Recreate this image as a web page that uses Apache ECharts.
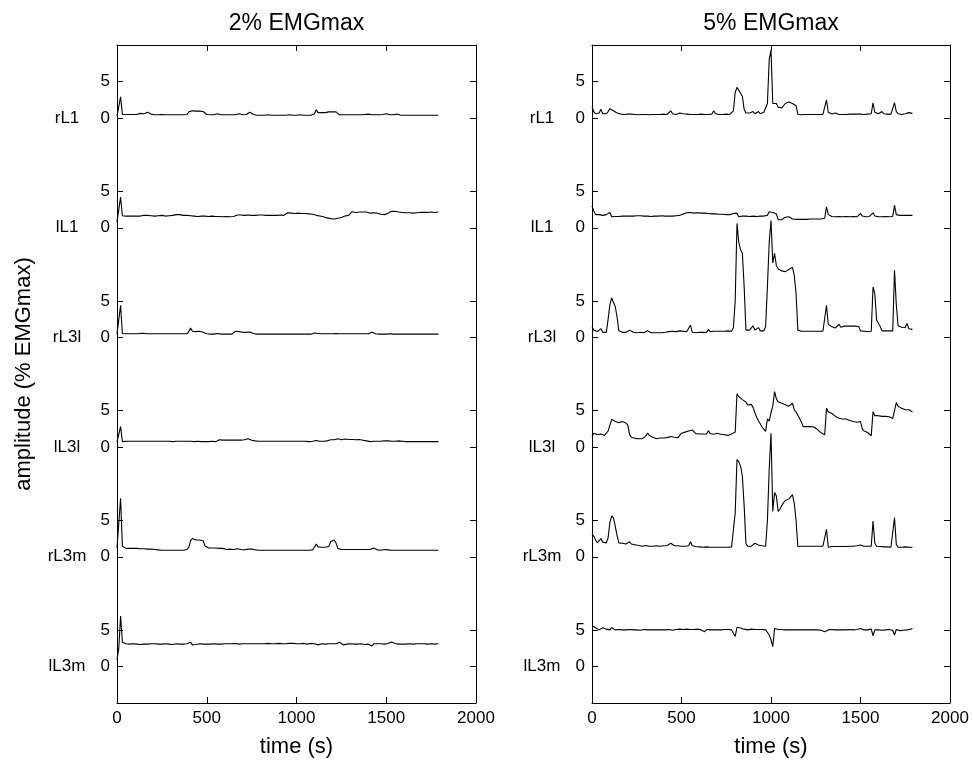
<!DOCTYPE html>
<html>
<head>
<meta charset="utf-8">
<script src="https://cdn.jsdelivr.net/npm/echarts@6/dist/echarts.min.js"></script>
<style>
  html, body { margin: 0; padding: 0; background: #ffffff; }
  #chart { width: 973px; height: 764px; }
</style>
</head>
<body>
<div id="chart"></div>
<script>
// Channels, drawn top to bottom, and the vertical offset (in % EMGmax) of each trace
const channels = ['rL1', 'lL1', 'rL3l', 'lL3l', 'rL3m', 'lL3m'];
const channelOffset = [75, 60, 45, 30, 15, 0];
const panelTitles = ['2% EMGmax', '5% EMGmax'];
const xTicks = [0, 500, 1000, 1500, 2000];
const yTickValues = [0, 5, 15, 20, 30, 35, 45, 50, 60, 65, 75, 80];
const sampleStep = 10; // seconds between samples

// ---- 2% EMGmax contraction ----
const emg2_rL1 = [
  0.3, 0.4, 2.9, 0.5, 0.5, 0.5, 0.5, 0.5, 0.45, 0.5,
  0.5, 0.5, 0.5, 0.65, 0.8, 0.6, 0.55, 0.8, 0.7, 0.55,
  0.5, 0.45, 0.45, 0.45, 0.45, 0.5, 0.45, 0.45, 0.45, 0.45,
  0.45, 0.45, 0.45, 0.45, 0.5, 0.45, 0.45, 0.45, 0.5, 0.5,
  0.85, 1.0, 1.0, 0.95, 0.95, 0.95, 0.95, 0.9, 0.9, 0.75,
  0.5, 0.45, 0.45, 0.45, 0.45, 0.5, 0.6, 0.45, 0.45, 0.45,
  0.45, 0.45, 0.45, 0.5, 0.45, 0.45, 0.45, 0.5, 0.6, 0.45,
  0.45, 0.45, 0.5, 0.7, 0.8, 0.6, 0.5, 0.45, 0.4, 0.4,
  0.4, 0.4, 0.4, 0.4, 0.45, 0.4, 0.4, 0.4, 0.4, 0.4,
  0.4, 0.4, 0.4, 0.4, 0.4, 0.4, 0.45, 0.4, 0.4, 0.4,
  0.4, 0.5, 0.45, 0.4, 0.4, 0.4, 0.4, 0.4, 0.4, 0.4,
  0.6, 1.15, 0.75, 0.75, 0.75, 0.8, 0.75, 0.8, 0.85, 0.85,
  0.85, 0.9, 0.85, 0.6, 0.45, 0.45, 0.45, 0.45, 0.45, 0.45,
  0.45, 0.45, 0.45, 0.45, 0.45, 0.45, 0.45, 0.45, 0.5, 0.5,
  0.55, 0.5, 0.45, 0.45, 0.45, 0.45, 0.45, 0.45, 0.5, 0.55,
  0.6, 0.5, 0.45, 0.45, 0.45, 0.5, 0.55, 0.45, 0.4, 0.4,
  0.4, 0.4, 0.4, 0.45, 0.4, 0.4, 0.4, 0.4, 0.4, 0.4,
  0.4, 0.4, 0.4, 0.4, 0.4, 0.4, 0.4, 0.4, 0.4, 0.4
];
const emg2_lL1 = [
  0.8, 1.0, 4.2, 1.65, 1.6, 1.6, 1.6, 1.6, 1.65, 1.6,
  1.6, 1.6, 1.6, 1.6, 1.65, 1.7, 1.7, 1.7, 1.7, 1.65,
  1.6, 1.6, 1.6, 1.65, 1.65, 1.7, 1.65, 1.6, 1.6, 1.65,
  1.7, 1.7, 1.75, 1.8, 1.85, 1.8, 1.75, 1.7, 1.7, 1.7,
  1.65, 1.65, 1.6, 1.6, 1.6, 1.55, 1.6, 1.6, 1.6, 1.6,
  1.55, 1.55, 1.6, 1.6, 1.55, 1.55, 1.6, 1.55, 1.55, 1.5,
  1.5, 1.55, 1.5, 1.5, 1.5, 1.55, 1.6, 1.75, 1.8, 1.75,
  1.75, 1.7, 1.75, 1.75, 1.7, 1.7, 1.75, 1.7, 1.7, 1.75,
  1.7, 1.75, 1.7, 1.7, 1.7, 1.7, 1.75, 1.7, 1.7, 1.7,
  1.7, 1.75, 1.7, 1.7, 1.75, 2.05, 1.95, 2.0, 2.0, 1.95,
  2.0, 2.0, 2.0, 1.95, 2.0, 1.95, 1.95, 1.9, 1.9, 1.85,
  1.75, 1.7, 1.65, 1.6, 1.55, 1.5, 1.45, 1.35, 1.3, 1.25,
  1.2, 1.2, 1.25, 1.3, 1.35, 1.4, 1.5, 1.6, 1.65, 1.7,
  1.9, 2.2, 2.15, 2.1, 2.1, 2.15, 2.1, 2.15, 2.2, 2.15,
  2.1, 2.0, 2.0, 2.05, 2.0, 2.0, 1.9, 1.85, 1.8, 1.8,
  1.85, 2.0, 2.2, 2.25, 2.3, 2.25, 2.2, 2.15, 2.2, 2.1,
  2.1, 2.05, 2.1, 2.05, 2.05, 2.0, 2.05, 2.05, 2.05, 2.1,
  2.05, 2.1, 2.05, 2.1, 2.05, 2.15, 2.1, 2.1, 2.15, 2.15
];
const emg2_rL3l = [
  0.45, 0.5, 4.4, 0.55, 0.5, 0.5, 0.5, 0.5, 0.5, 0.5,
  0.5, 0.5, 0.5, 0.55, 0.6, 0.55, 0.5, 0.5, 0.5, 0.5,
  0.5, 0.5, 0.5, 0.5, 0.5, 0.5, 0.5, 0.5, 0.5, 0.5,
  0.5, 0.5, 0.5, 0.5, 0.5, 0.5, 0.5, 0.5, 0.5, 0.5,
  0.8, 1.3, 0.85, 0.75, 0.8, 0.85, 0.85, 0.8, 0.7, 0.6,
  0.5, 0.45, 0.45, 0.45, 0.45, 0.45, 0.55, 0.7, 0.45, 0.45,
  0.45, 0.45, 0.45, 0.45, 0.45, 0.5, 0.85, 0.8, 0.8, 0.75,
  0.7, 0.7, 0.7, 0.7, 0.75, 0.65, 0.55, 0.5, 0.45, 0.45,
  0.45, 0.45, 0.45, 0.45, 0.45, 0.45, 0.45, 0.45, 0.45, 0.45,
  0.45, 0.45, 0.45, 0.45, 0.45, 0.45, 0.45, 0.45, 0.45, 0.45,
  0.45, 0.45, 0.45, 0.45, 0.45, 0.45, 0.45, 0.45, 0.45, 0.45,
  0.6, 0.7, 0.55, 0.5, 0.5, 0.5, 0.5, 0.5, 0.5, 0.5,
  0.5, 0.55, 0.55, 0.5, 0.5, 0.5, 0.5, 0.5, 0.5, 0.5,
  0.5, 0.5, 0.5, 0.5, 0.5, 0.5, 0.5, 0.5, 0.5, 0.5,
  0.5, 0.55, 0.7, 0.55, 0.5, 0.45, 0.45, 0.5, 0.45, 0.45,
  0.45, 0.45, 0.5, 0.45, 0.45, 0.45, 0.45, 0.45, 0.45, 0.45,
  0.45, 0.45, 0.45, 0.45, 0.45, 0.45, 0.45, 0.45, 0.45, 0.45,
  0.45, 0.45, 0.45, 0.45, 0.45, 0.45, 0.45, 0.45, 0.45, 0.45
];
const emg2_lL3l = [
  0.7, 0.75, 2.8, 0.75, 0.75, 0.8, 0.75, 0.8, 0.8, 0.8,
  0.75, 0.8, 0.8, 0.8, 0.85, 0.8, 0.8, 0.8, 0.9, 0.8,
  0.8, 0.8, 0.8, 0.8, 0.8, 0.8, 0.75, 0.8, 0.8, 0.8,
  0.8, 0.75, 0.8, 0.8, 0.8, 0.8, 0.8, 0.8, 0.8, 0.8,
  0.95, 0.8, 0.75, 0.75, 0.75, 0.8, 0.75, 0.75, 0.75, 0.75,
  0.75, 0.75, 0.75, 0.8, 0.75, 0.75, 0.95, 1.0, 0.95, 0.95,
  0.95, 0.95, 0.95, 0.95, 0.95, 0.95, 0.95, 0.95, 0.9, 0.95,
  0.95, 1.0, 1.1, 1.15, 1.0, 0.95, 0.9, 0.85, 0.85, 0.8,
  0.8, 0.8, 0.8, 0.8, 0.8, 0.8, 0.8, 0.8, 0.8, 0.8,
  0.8, 0.8, 0.8, 0.8, 0.75, 0.8, 0.8, 0.8, 0.8, 0.8,
  0.8, 0.8, 0.8, 0.8, 0.8, 0.8, 0.8, 0.75, 0.8, 0.8,
  0.85, 0.9, 0.8, 0.8, 0.8, 0.8, 0.8, 0.85, 0.9, 1.0,
  0.95, 1.0, 1.1, 1.15, 1.05, 1.0, 1.05, 1.1, 1.05, 1.05,
  1.05, 1.05, 1.0, 1.0, 1.0, 1.05, 1.0, 0.95, 0.9, 0.85,
  0.8, 0.75, 0.8, 0.8, 0.8, 0.8, 0.8, 0.8, 0.8, 0.85,
  0.8, 0.85, 0.8, 0.8, 0.8, 0.8, 0.85, 0.85, 0.8, 0.8,
  0.75, 0.75, 0.75, 0.75, 0.75, 0.75, 0.75, 0.75, 0.75, 0.75,
  0.75, 0.75, 0.75, 0.75, 0.75, 0.75, 0.75, 0.75, 0.75, 0.75
];
const emg2_rL3m = [
  1.2, 1.2, 8.0, 1.45, 1.2, 1.15, 1.15, 1.15, 1.15, 1.15,
  1.15, 1.15, 1.15, 1.1, 1.15, 1.1, 1.1, 1.05, 1.1, 1.05,
  1.0, 1.0, 0.95, 0.95, 0.95, 0.9, 0.9, 0.9, 0.9, 0.9,
  0.9, 0.9, 0.9, 0.9, 0.9, 0.9, 0.9, 0.9, 0.9, 1.0,
  1.3, 2.2, 2.5, 2.3, 2.3, 2.3, 2.3, 2.3, 2.2, 1.5,
  1.25, 1.2, 1.2, 1.2, 1.2, 1.2, 1.15, 1.15, 1.2, 1.15,
  1.05, 1.0, 1.0, 1.05, 1.0, 1.0, 1.1, 1.1, 1.05, 1.0,
  0.9, 0.95, 1.0, 1.05, 1.1, 1.05, 1.0, 0.95, 0.9, 0.9,
  0.9, 0.9, 0.9, 0.9, 0.9, 0.9, 0.9, 0.9, 0.9, 0.9,
  0.9, 0.9, 0.9, 0.9, 0.9, 0.9, 0.9, 0.9, 0.9, 0.9,
  0.9, 0.9, 0.9, 0.9, 0.9, 0.9, 0.9, 0.9, 0.9, 0.95,
  1.3, 1.75, 1.35, 1.3, 1.3, 1.3, 1.3, 1.3, 1.4, 2.05,
  2.2, 2.3, 1.9, 1.15, 1.0, 1.0, 1.0, 1.0, 1.0, 1.0,
  1.0, 1.0, 1.0, 1.0, 1.0, 1.0, 1.0, 1.0, 1.0, 1.0,
  1.0, 1.0, 1.1, 1.2, 0.95, 0.95, 0.9, 0.9, 0.95, 1.0,
  0.95, 0.95, 0.9, 0.9, 0.9, 0.9, 0.9, 0.9, 0.9, 0.9,
  0.9, 0.9, 0.9, 0.9, 0.9, 0.9, 0.9, 0.9, 0.9, 0.9,
  0.9, 0.9, 0.9, 0.9, 0.9, 0.9, 0.9, 0.9, 0.9, 0.9
];
const emg2_lL3m = [
  0.9, 2.5, 6.9, 3.3, 3.1, 3.1, 3.1, 3.05, 3.05, 3.1,
  3.1, 3.05, 3.05, 3.0, 3.0, 3.05, 3.1, 3.05, 3.05, 3.1,
  3.05, 3.1, 3.05, 3.05, 3.0, 3.05, 3.05, 3.1, 3.05, 3.05,
  3.05, 3.0, 3.05, 3.1, 3.05, 3.05, 3.0, 3.05, 3.05, 3.1,
  3.0, 3.3, 2.95, 3.05, 3.0, 3.05, 3.1, 3.05, 3.05, 3.1,
  3.05, 3.1, 3.05, 3.05, 3.1, 3.05, 3.05, 3.1, 3.05, 3.05,
  3.1, 3.05, 3.1, 3.05, 3.1, 3.05, 3.15, 3.1, 3.05, 3.1,
  3.1, 3.05, 3.1, 3.15, 3.1, 3.05, 3.1, 3.15, 3.1, 3.1,
  3.1, 3.15, 3.1, 3.1, 3.15, 3.1, 3.1, 3.15, 3.1, 3.1,
  3.15, 3.1, 3.1, 3.15, 3.1, 3.1, 3.15, 3.1, 3.15, 3.1,
  3.1, 3.15, 3.1, 3.1, 3.15, 3.1, 3.05, 3.1, 3.15, 3.1,
  3.1, 3.0, 2.95, 3.05, 3.1, 3.1, 3.05, 3.1, 3.1, 3.05,
  3.1, 3.05, 3.1, 3.2, 3.3, 3.05, 2.95, 2.8, 3.05, 3.1,
  3.1, 3.05, 3.05, 3.1, 3.05, 3.05, 3.1, 3.05, 3.0, 3.05,
  3.05, 2.95, 2.8, 3.1, 3.15, 3.1, 3.05, 3.1, 3.1, 3.05,
  3.1, 3.15, 3.3, 3.35, 3.2, 3.15, 3.1, 3.05, 3.0, 3.05,
  3.1, 3.05, 3.05, 3.1, 3.1, 3.05, 3.05, 3.1, 3.05, 3.1,
  3.05, 3.1, 3.1, 3.05, 3.05, 3.1, 3.1, 3.05, 3.1, 3.1
];

// ---- 5% EMGmax contraction ----
const emg5_rL1 = [
  1.5, 0.9, 0.6, 0.6, 0.7, 1.2, 0.6, 0.6, 0.6, 0.9,
  1.3, 1.1, 1.0, 0.8, 0.7, 0.55, 0.55, 0.5, 0.5, 0.5,
  0.55, 0.7, 0.55, 0.5, 0.5, 0.5, 0.45, 0.45, 0.5, 0.5,
  0.5, 0.45, 0.45, 0.5, 0.5, 0.55, 0.5, 0.5, 0.5, 0.55,
  0.55, 0.5, 0.5, 0.6, 1.0, 0.6, 0.55, 0.5, 0.55, 0.7,
  0.9, 0.6, 0.8, 0.55, 0.5, 0.5, 0.55, 0.5, 0.45, 0.5,
  0.5, 0.55, 0.5, 0.5, 0.55, 0.5, 0.6, 0.55, 1.0, 0.6,
  0.55, 0.5, 0.55, 0.5, 0.5, 0.55, 0.5, 0.5, 0.55, 1.0,
  3.5, 4.2, 4.0, 3.4, 3.0, 1.2, 0.7, 0.7, 0.7, 0.6,
  0.9, 0.6, 0.7, 0.9, 0.6, 0.6, 0.8, 0.7, 2.0, 8.0,
  9.3, 2.0, 2.0, 2.0, 1.5, 1.4, 1.4, 1.6, 2.0, 2.2,
  2.2, 2.1, 2.0, 1.9, 1.7, 0.5, 0.45, 0.45, 0.5, 0.5,
  0.5, 0.5, 0.5, 0.5, 0.5, 0.5, 0.5, 0.5, 0.5, 0.5,
  0.55, 2.5, 0.8, 0.7, 0.55, 0.6, 0.7, 0.55, 0.5, 0.5,
  0.5, 0.55, 0.5, 0.55, 0.55, 0.55, 0.55, 0.6, 0.55, 0.55,
  0.55, 0.5, 0.5, 0.55, 0.55, 0.6, 0.6, 2.1, 0.8, 0.6,
  0.6, 0.8, 0.9, 0.6, 0.55, 0.55, 0.5, 0.55, 0.6, 2.1,
  0.9, 0.6, 0.5, 0.5, 0.55, 0.6, 0.6, 0.75, 0.6, 0.65
];
const emg5_lL1 = [
  3.0, 2.3, 1.8, 1.8, 1.8, 1.75, 1.7, 1.75, 1.8, 1.9,
  2.1, 1.5, 1.5, 1.55, 1.5, 1.55, 1.55, 1.6, 1.55, 1.6,
  1.6, 1.6, 1.65, 1.6, 1.6, 1.65, 1.7, 1.65, 1.6, 1.6,
  1.7, 1.6, 1.6, 1.55, 1.6, 1.6, 1.65, 1.6, 1.6, 1.65,
  1.65, 1.6, 1.6, 1.6, 1.8, 1.6, 1.6, 1.65, 1.65, 1.7,
  1.8, 1.9, 2.0, 2.05, 2.0, 2.1, 2.05, 2.0, 2.0, 2.05,
  2.0, 2.0, 1.95, 2.0, 1.95, 1.95, 2.0, 1.9, 2.1, 1.9,
  1.85, 1.85, 1.8, 1.85, 1.85, 1.8, 1.85, 1.8, 1.85, 1.95,
  2.1, 2.0, 1.5, 1.55, 1.6, 1.6, 1.6, 1.6, 1.55, 1.6,
  1.6, 1.6, 1.55, 1.6, 1.6, 1.6, 1.6, 1.65, 1.7, 2.2,
  2.0, 2.1, 2.0, 1.9, 1.1, 1.05, 1.1, 1.2, 1.45, 1.6,
  1.5, 1.3, 1.2, 1.15, 1.15, 1.15, 1.15, 1.2, 1.15, 1.15,
  1.15, 1.2, 1.2, 1.2, 1.2, 1.25, 1.2, 1.2, 1.2, 1.25,
  1.3, 2.85, 1.8, 1.6, 1.55, 1.5, 1.5, 1.5, 1.55, 1.5,
  1.5, 1.5, 1.55, 1.5, 1.5, 1.5, 1.55, 1.5, 1.5, 1.6,
  1.95, 1.6, 1.55, 1.5, 1.55, 1.55, 1.55, 2.05, 1.6, 1.45,
  1.5, 1.5, 1.5, 1.5, 1.55, 1.5, 1.5, 1.5, 1.55, 3.1,
  1.8, 1.7, 1.7, 1.7, 1.7, 1.75, 1.7, 1.7, 1.7, 1.7
];
const emg5_rL3l = [
  1.5, 1.0, 0.8, 0.8, 0.8, 1.2, 0.7, 0.7, 0.7, 2.5,
  4.5, 5.4, 5.2, 4.2, 2.8, 0.9, 0.75, 0.7, 0.7, 0.7,
  0.7, 1.0, 0.75, 0.7, 0.7, 0.65, 0.65, 0.7, 0.7, 0.65,
  0.7, 0.9, 0.65, 0.65, 0.6, 0.65, 0.65, 0.65, 0.7, 0.65,
  0.7, 0.7, 0.75, 0.8, 0.9, 0.85, 0.85, 0.8, 0.85, 0.9,
  0.8, 0.85, 1.0, 0.8, 0.85, 1.7, 0.7, 0.65, 0.65, 0.7,
  0.7, 0.65, 0.7, 0.75, 0.7, 1.1, 0.8, 0.85, 0.85, 0.8,
  0.85, 0.9, 0.85, 0.8, 0.85, 0.85, 0.9, 0.8, 0.85, 1.35,
  5.0, 15.6, 13.0, 12.0, 11.5, 7.0, 1.0, 1.0, 1.0, 1.0,
  1.6, 1.0, 1.2, 1.35, 0.9, 1.0, 0.9, 1.5, 7.0, 13.0,
  16.0, 10.2, 11.5, 9.8, 9.4, 9.2, 9.1, 9.2, 9.0, 9.1,
  9.3, 9.5, 9.6, 8.5, 6.0, 1.0, 0.85, 0.85, 0.85, 0.85,
  0.85, 0.85, 0.85, 0.85, 0.85, 0.85, 0.85, 0.85, 0.85, 0.85,
  0.85, 4.4, 1.8, 1.6, 1.45, 1.2, 1.3, 1.5, 1.8, 1.4,
  1.5, 1.55, 1.55, 1.55, 1.6, 1.55, 1.55, 1.55, 1.55, 1.5,
  0.9, 0.85, 0.85, 0.85, 0.8, 0.85, 0.85, 6.9, 6.0, 2.4,
  2.2, 1.5, 0.9, 0.9, 0.9, 0.9, 0.9, 0.9, 0.9, 9.2,
  4.5, 1.6, 1.5, 1.4, 1.3, 1.35, 1.9, 1.2, 1.1, 1.1
];
const emg5_lL3l = [
  1.5, 1.9, 2.0, 1.7, 1.75, 1.8, 1.6, 1.6, 1.55, 2.2,
  3.0, 3.8, 3.6, 3.5, 3.45, 3.35, 3.5, 3.5, 3.4, 3.3,
  3.0, 1.7, 1.35, 1.25, 1.2, 1.15, 1.15, 1.2, 1.15, 1.15,
  1.5, 1.9, 1.6, 1.5, 1.35, 1.25, 1.15, 1.2, 1.25, 1.25,
  1.25, 1.3, 1.3, 1.35, 1.45, 1.4, 1.35, 1.3, 1.3, 1.25,
  1.9, 1.95, 2.05, 1.8, 2.2, 2.45, 2.35, 2.2, 1.85, 1.8,
  1.8, 1.8, 1.8, 1.8, 1.8, 2.25, 1.85, 1.8, 1.75, 2.0,
  1.9, 1.7, 1.75, 1.8, 1.7, 1.65, 1.6, 1.45, 1.8, 2.0,
  2.05, 7.3, 6.9, 6.7, 6.5, 6.3, 6.15, 5.75, 5.8, 5.85,
  5.4, 4.7, 4.1, 3.6, 3.2, 2.75, 2.45, 2.15, 3.85, 3.55,
  4.7, 5.6, 7.6, 6.6, 6.2, 6.05, 6.0, 5.9, 5.8, 5.7,
  5.6, 5.5, 6.0, 5.1, 4.8, 4.35, 3.9, 3.4, 2.8, 2.8,
  2.8, 2.85, 2.8, 2.8, 2.75, 2.6, 2.4, 2.15, 1.95, 1.75,
  1.7, 5.3, 4.85, 4.75, 4.6, 4.4, 4.2, 4.1, 3.95, 3.9,
  3.85, 3.85, 3.85, 3.8, 3.65, 3.6, 3.5, 3.45, 3.4, 3.3,
  3.5, 2.5, 2.2, 2.15, 2.0, 1.8, 1.55, 4.85, 4.3, 4.4,
  4.3, 4.2, 4.2, 4.25, 4.2, 4.2, 4.15, 4.1, 3.9, 3.7,
  6.1, 5.6, 5.4, 5.3, 5.2, 5.1, 5.1, 5.1, 5.0, 4.8
];
const emg5_rL3m = [
  3.1, 2.8, 2.3, 1.9, 2.2, 2.5, 2.0, 1.9, 1.9, 2.6,
  4.7, 5.6, 5.3, 4.2, 2.9, 1.9, 1.85, 1.85, 1.8, 1.75,
  1.8, 2.05, 1.75, 1.7, 1.65, 1.6, 1.55, 1.5, 1.45, 1.5,
  1.55, 1.6, 1.45, 1.4, 1.45, 1.45, 1.5, 1.45, 1.45, 1.45,
  1.5, 1.5, 1.55, 1.6, 1.85, 1.6, 1.5, 1.5, 1.5, 1.45,
  1.45, 1.5, 1.45, 1.5, 1.5, 2.05, 1.5, 1.4, 1.4, 1.35,
  1.35, 1.35, 1.3, 1.3, 1.35, 1.3, 1.3, 1.35, 1.3, 1.3,
  1.3, 1.3, 1.3, 1.3, 1.3, 1.3, 1.3, 1.3, 1.35, 1.6,
  6.0, 13.3, 13.0, 12.4, 11.0, 7.0, 1.8, 1.45, 1.45, 1.45,
  1.5, 1.85, 1.6, 1.6, 1.75, 1.5, 1.5, 1.45, 5.0, 12.0,
  16.9, 6.2, 8.8, 8.3, 6.2, 6.5, 7.0, 7.4, 7.7, 7.8,
  7.9, 8.2, 8.5, 7.3, 5.0, 1.4, 1.45, 1.45, 1.45, 1.45,
  1.45, 1.45, 1.45, 1.45, 1.45, 1.45, 1.45, 1.45, 1.45, 1.45,
  1.45, 3.75, 1.3, 1.35, 1.4, 1.4, 1.4, 1.4, 1.4, 1.4,
  1.4, 1.4, 1.4, 1.4, 1.45, 1.45, 1.45, 1.45, 1.5, 1.5,
  1.6, 1.45, 1.45, 1.45, 1.45, 1.4, 1.45, 4.9, 1.85, 1.45,
  1.4, 1.4, 1.35, 1.35, 1.35, 1.35, 1.35, 1.3, 1.3, 5.35,
  1.7, 1.3, 1.3, 1.3, 1.35, 1.35, 1.35, 1.3, 1.3, 1.3
];
const emg5_lL3m = [
  5.6, 5.5, 5.3, 5.2, 5.0, 4.75, 5.3, 5.2, 5.1, 5.05,
  5.0, 5.3, 5.1, 5.0, 5.0, 5.05, 5.0, 5.0, 5.05, 5.0,
  5.0, 5.05, 5.0, 5.0, 5.05, 5.0, 5.0, 4.95, 5.0, 5.05,
  5.0, 5.0, 5.05, 5.0, 4.95, 5.0, 5.05, 5.0, 5.0, 5.0,
  5.05, 5.0, 5.0, 5.05, 5.2, 4.95, 5.0, 5.05, 5.0, 5.1,
  5.0, 5.05, 4.95, 5.1, 5.0, 5.05, 5.2, 5.05, 5.0, 5.1,
  5.05, 5.0, 5.1, 4.75, 5.05, 5.1, 5.0, 5.05, 5.0, 5.05,
  5.0, 5.05, 5.0, 5.0, 5.05, 5.0, 5.05, 5.0, 5.0, 5.05,
  4.1, 5.35, 5.3, 5.25, 5.2, 5.1, 5.05, 5.0, 5.05, 5.1,
  5.05, 5.05, 5.0, 5.05, 5.0, 5.05, 5.0, 5.0, 4.9, 4.3,
  3.65, 2.7, 5.2, 5.1, 5.05, 5.0, 5.05, 5.0, 5.0, 5.05,
  5.0, 5.05, 5.0, 5.0, 5.0, 5.05, 5.0, 5.0, 5.0, 5.0,
  5.0, 5.0, 5.0, 5.0, 5.0, 5.0, 5.0, 5.0, 4.95, 4.85,
  4.75, 4.9, 5.0, 5.0, 5.05, 5.0, 5.0, 5.05, 5.0, 5.0,
  5.0, 5.05, 5.0, 5.0, 5.05, 5.0, 5.0, 5.0, 5.05, 5.0,
  5.2, 5.0, 5.0, 5.05, 5.0, 5.0, 5.1, 4.2, 5.0, 5.05,
  5.0, 5.0, 4.95, 5.0, 5.0, 5.0, 5.05, 5.0, 4.95, 4.3,
  5.05, 4.95, 4.9, 5.0, 4.95, 5.0, 5.0, 4.95, 5.1, 5.2
];

const panels = [
  [emg2_rL1, emg2_lL1, emg2_rL3l, emg2_lL3l, emg2_rL3m, emg2_lL3m],
  [emg5_rL1, emg5_lL1, emg5_rL3l, emg5_lL3l, emg5_rL3m, emg5_lL3m]
];
const time = emg2_rL1.map((_, i) => i * sampleStep);

const FONT = '"Liberation Sans", Arial, Helvetica, sans-serif';
const BLACK = '#000000';
const gridBoxes = [
  { left: 117, top: 45, width: 359, height: 658 },
  { left: 592, top: 45, width: 358, height: 658 }
];

const lineAxis = { show: true, onZero: false, lineStyle: { color: BLACK, width: 1 } };
const tickStyle = { inside: true, length: 6, lineStyle: { color: BLACK, width: 1 } };

// Left tick labels: channel name next to its zero line, then the 0 / 5 marks
function yLabel(v) {
  const r = ((v % 15) + 15) % 15;
  if (r === 0) return '{n|' + channels[5 - v / 15] + '}{v|0}';
  return '{v|5}';
}

const xAxes = [], yAxes = [], series = [];
panels.forEach((arrs, p) => {
  xAxes.push({
    type: 'value', gridIndex: p, position: 'bottom',
    min: xTicks[0], max: xTicks[xTicks.length - 1], interval: 500,
    axisLine: lineAxis, axisTick: tickStyle,
    axisLabel: {
      color: BLACK, fontSize: 17, fontFamily: FONT, margin: 7,
      formatter: (v) => String(v)
    },
    splitLine: { show: false },
    name: 'time (s)', nameLocation: 'middle', nameGap: 33,
    nameTextStyle: { color: BLACK, fontSize: 22, fontFamily: FONT }
  });
  xAxes.push({
    type: 'value', gridIndex: p, position: 'top',
    min: xTicks[0], max: xTicks[xTicks.length - 1], interval: 500,
    axisLine: lineAxis, axisTick: tickStyle,
    axisLabel: { show: false }, splitLine: { show: false },
    name: panelTitles[p], nameLocation: 'middle', nameGap: 10,
    nameTextStyle: { color: BLACK, fontSize: 23, fontFamily: FONT }
  });
  const leftY = {
    type: 'value', gridIndex: p, position: 'left',
    min: -5, max: 85, interval: 5,
    axisLine: lineAxis,
    axisTick: Object.assign({ customValues: yTickValues }, tickStyle),
    axisLabel: {
      customValues: yTickValues, formatter: yLabel, margin: 7,
      color: BLACK, fontSize: 17, fontFamily: FONT,
      rich: {
        n: { width: 50, align: 'center', color: BLACK, fontSize: 17, fontFamily: FONT },
        v: { width: 18, align: 'right', color: BLACK, fontSize: 17, fontFamily: FONT }
      }
    },
    splitLine: { show: false }
  };
  if (p === 0) {
    Object.assign(leftY, {
      name: 'amplitude (% EMGmax)', nameLocation: 'middle', nameGap: 82,
      nameTextStyle: { color: BLACK, fontSize: 22, fontFamily: FONT }
    });
  }
  yAxes.push(leftY);
  yAxes.push({
    type: 'value', gridIndex: p, position: 'right',
    min: -5, max: 85, interval: 5,
    axisLine: lineAxis,
    axisTick: Object.assign({ customValues: yTickValues }, tickStyle),
    axisLabel: { show: false }, splitLine: { show: false }
  });
  arrs.forEach((vals, c) => {
    series.push({
      type: 'line', name: panelTitles[p] + ' ' + channels[c],
      xAxisIndex: 2 * p, yAxisIndex: 2 * p,
      data: vals.map((v, i) => [time[i], v + channelOffset[c]]),
      showSymbol: false, symbol: 'none', silent: true,
      lineStyle: { color: BLACK, width: 1.1 }
    });
  });
});

const chart = echarts.init(document.getElementById('chart'), null, { renderer: 'canvas' });
chart.setOption({
  animation: false,
  backgroundColor: '#ffffff',
  textStyle: { fontFamily: FONT },
  grid: gridBoxes,
  xAxis: xAxes,
  yAxis: yAxes,
  series: series
});
</script>
</body>
</html>
